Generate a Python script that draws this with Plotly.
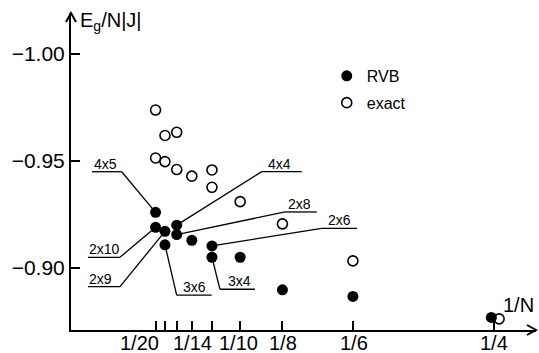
import plotly.graph_objects as go

# ---------------- data ----------------
rvb_x = [1/20, 1/20, 1/18, 1/18, 1/16, 1/16, 1/14, 1/12, 1/12, 1/10, 1/8, 1/6, 0.2485]
rvb_y = [-0.9260, -0.9190, -0.9171, -0.9108, -0.9200, -0.9156, -0.9129,
         -0.9103, -0.9050, -0.9050, -0.8898, -0.8867, -0.8769]

exact_x = [1/20, 1/20, 1/18, 1/18, 1/16, 1/16, 1/14, 1/12, 1/12, 1/10, 1/8, 1/6, 0.2531]
exact_y = [-0.9738, -0.9514, -0.9619, -0.9497, -0.9634, -0.9460, -0.9429,
           -0.9458, -0.9377, -0.9310, -0.9206, -0.9033, -0.8762]

lattice_labels = ["4x5", "2x10", "2x9", "3x6", "4x4", "2x8", "2x6", "3x4"]
lattice_point = [0, 1, 2, 3, 4, 5, 7, 8]          # index into rvb arrays

x_tick_vals = [1/20, 1/18, 1/16, 1/14, 1/12, 1/10, 1/8, 1/6, 1/4]
x_tick_text = ["1/20", "", "", "1/14", "", "1/10", "1/8", "1/6", "1/4"]
y_tick_vals = [-1.00, -0.95, -0.90]
y_tick_text = ["\u22121.00", "\u22120.95", "\u22120.90"]

# ---------------- style (pixel offsets) ----------------
# leader: (dx, dy) from point to corner, underline far end dx, text left dx ; dy image-down
leader_style = {
    "4x5":  (-33.9, -40.6, -63.6, -62.6),
    "2x10": (-35.6, 30.0, -67.6, -67.6),
    "2x9":  (-45.0, 55.3, -77.0, -77.0),
    "3x6":  (11.7, 50.2, 46.7, 16.7),
    "4x4":  (85.0, -53.5, 125.0, 90.0),
    "2x8":  (108.3, -22.6, 140.0, 110.0),
    "2x6":  (109.7, -17.6, 145.0, 114.7),
    "3x4":  (8.0, 32.0, 43.0, 14.7),
}
x_label_shift = [-16, 0, 0, 1, 0, -2, 1, 1, 0]

FONT = "Liberation Sans"

fig = go.Figure()

fig.add_trace(go.Scatter(
    x=rvb_x, y=rvb_y, mode="markers", name="RVB", legendgroup="a",
    marker=dict(symbol="circle", size=11, color="black"),
    cliponaxis=False))
fig.add_trace(go.Scatter(
    x=exact_x, y=exact_y, mode="markers", name="exact", legendgroup="b",
    marker=dict(symbol="circle-open", size=10, color="black", line=dict(width=1.6)),
    cliponaxis=False))

shapes = []
annotations = []
for lab, idx in zip(lattice_labels, lattice_point):
    px, py = rvb_x[idx], rvb_y[idx]
    dx, dy, fx, tx = leader_style[lab]
    shapes.append(dict(type="line", xref="x", yref="y", layer="below",
                       xsizemode="pixel", ysizemode="pixel",
                       xanchor=px, yanchor=py, x0=0, y0=0, x1=dx, y1=-dy,
                       line=dict(color="black", width=1.3)))
    shapes.append(dict(type="line", xref="x", yref="y", layer="below",
                       xsizemode="pixel", ysizemode="pixel",
                       xanchor=px, yanchor=py, x0=dx, y0=-dy, x1=fx, y1=-dy,
                       line=dict(color="black", width=1.3)))
    annotations.append(dict(x=px, y=py, xref="x", yref="y", text=lab, showarrow=False,
                            xanchor="left", yanchor="middle", xshift=tx - 1, yshift=-(dy - 8),
                            font=dict(family=FONT, size=14, color="black")))

for v, t, s in zip(x_tick_vals, x_tick_text, x_label_shift):
    if t:
        annotations.append(dict(x=v, y=0, xref="x", yref="paper", text=t, showarrow=False,
                                xanchor="center", yanchor="top", xshift=s, yshift=0,
                                font=dict(family=FONT, size=20, color="black")))

# axis arrowheads (open chevrons)
shapes.append(dict(type="path", xref="paper", yref="paper", xsizemode="pixel",
                   ysizemode="pixel", xanchor=0, yanchor=1,
                   path="M -5,-9 L 0,0 L 5,-9", line=dict(color="black", width=2)))
shapes.append(dict(type="path", xref="paper", yref="paper", xsizemode="pixel",
                   ysizemode="pixel", xanchor=1, yanchor=0,
                   path="M -9,5 L 0,0 L -9,-5", line=dict(color="black", width=2)))
# axis titles
annotations.append(dict(x=0, y=1, xref="paper", yref="paper", text="E<sub>g</sub>/N|J|",
                        showarrow=False, xanchor="left", yanchor="middle", xshift=7, yshift=-8,
                        font=dict(family=FONT, size=20, color="black")))
annotations.append(dict(x=1, y=0, xref="paper", yref="paper", text="1/N",
                        showarrow=False, xanchor="right", yanchor="middle", xshift=0, yshift=25,
                        font=dict(family=FONT, size=20, color="black")))

fig.update_layout(
    width=539, height=353,
    margin=dict(l=71, r=3, t=13, b=23, pad=0),
    paper_bgcolor="white", plot_bgcolor="white",
    font=dict(family=FONT, color="black"),
    shapes=shapes, annotations=annotations,
    showlegend=True,
    legend=dict(x=0.55, y=0.855, xanchor="left", yanchor="top",
                font=dict(family=FONT, size=16, color="black"),
                traceorder="grouped", tracegroupgap=3,
                bgcolor="rgba(0,0,0,0)", borderwidth=0),
    xaxis=dict(range=[0, 0.2749], showline=True, linecolor="black", linewidth=2,
               ticks="inside", ticklen=9, tickwidth=1.5, tickcolor="black",
               tickvals=x_tick_vals, showticklabels=False,
               showgrid=False, zeroline=False, automargin=False),
    yaxis=dict(range=[-0.8710, -1.01916], showline=True, linecolor="black", linewidth=2,
               ticks="inside", ticklen=9, tickwidth=1.5, tickcolor="black",
               tickvals=y_tick_vals, ticktext=y_tick_text,
               tickfont=dict(family=FONT, size=21, color="black"),
               showgrid=False, zeroline=False, automargin=False),
)

fig.write_html("out.html")
